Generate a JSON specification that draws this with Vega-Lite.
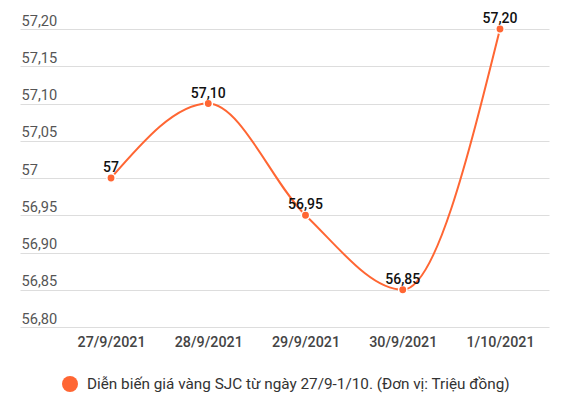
{
  "$schema": "https://vega.github.io/schema/vega-lite/v6.json",
  "autosize": {"type": "none"},
  "width": 529,
  "height": 298,
  "padding": {"left": 20, "top": 29, "right": 22, "bottom": 75},
  "background": "#ffffff",
  "config": {
    "font": "Roboto",
    "view": {"stroke": null}
  },
  "data": {
    "values": [
      {"date": "27/9/2021", "price": 57.00, "label": "57"},
      {"date": "28/9/2021", "price": 57.10, "label": "57,10"},
      {"date": "29/9/2021", "price": 56.95, "label": "56,95"},
      {"date": "30/9/2021", "price": 56.85, "label": "56,85"},
      {"date": "1/10/2021", "price": 57.20, "label": "57,20"}
    ]
  },
  "encoding": {
    "x": {
      "field": "date",
      "type": "ordinal",
      "sort": null,
      "scale": {"type": "point", "padding": 0.72, "align": 0.65},
      "axis": {
        "title": null,
        "domain": false,
        "ticks": false,
        "labelAngle": 0,
        "labelPadding": 8,
        "labelFontSize": 14.3,
        "labelFontWeight": 500,
        "labelColor": "#444444"
      }
    },
    "y": {
      "field": "price",
      "type": "quantitative",
      "scale": {"domain": [56.8, 57.2], "nice": false, "zero": false},
      "axis": {
        "title": null,
        "domain": false,
        "ticks": false,
        "tickSize": 0,
        "grid": true,
        "gridColor": "#dddddd",
        "gridWidth": 1,
        "values": [56.8, 56.85, 56.9, 56.95, 57, 57.05, 57.1, 57.15, 57.2],
        "labelAlign": "left",
        "labelBaseline": "alphabetic",
        "labelPadding": -1,
        "labelOffset": -4,
        "labelFlush": false,
        "labelOverlap": false,
        "labelFontSize": 14.6,
        "labelColor": "#555555",
        "labelExpr": "datum.value == 57 ? '57' : replace(format(datum.value, '.2f'), '.', ',')"
      }
    }
  },
  "layer": [
    {
      "mark": {"type": "line", "interpolate": "monotone", "stroke": "#ff6633", "strokeWidth": 2}
    },
    {
      "mark": {"type": "point", "filled": true, "size": 70, "stroke": "#ffffff", "strokeWidth": 1.5, "opacity": 1, "strokeOpacity": 1},
      "encoding": {
        "color": {
          "datum": "Diễn biến giá vàng SJC từ ngày 27/9-1/10. (Đơn vị: Triệu đồng)",
          "scale": {"range": ["#ff6633"]},
          "legend": {
            "title": null,
            "orient": "none",
            "legendX": 42,
            "legendY": 347,
            "padding": 0,
            "symbolType": "circle",
            "symbolSize": 256,
            "symbolStrokeWidth": 0,
            "symbolOpacity": 1,
            "labelFontSize": 15.3,
            "labelColor": "#333333",
            "labelOffset": 9,
            "labelLimit": 600
          }
        }
      }
    },
    {
      "mark": {"type": "text", "baseline": "alphabetic", "dy": -6, "fontSize": 14, "fontWeight": 500, "color": "#111111"},
      "encoding": {"text": {"field": "label"}}
    }
  ]
}
